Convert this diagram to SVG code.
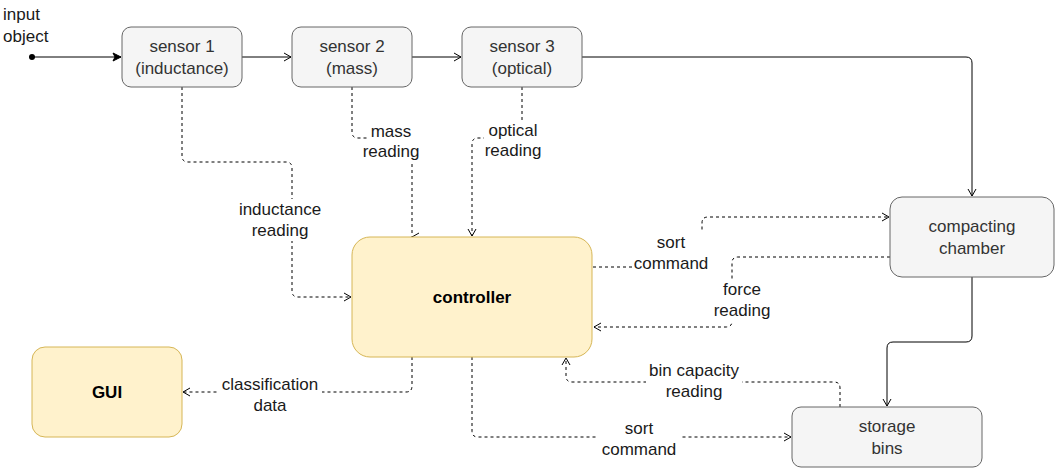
<svg xmlns="http://www.w3.org/2000/svg" width="1056" height="469" viewBox="0 0 1056 469">
<style>
.gray{fill:#f5f5f5;stroke:#666666;stroke-width:1}
.yel{fill:#fff2cc;stroke:#d6b656;stroke-width:1}
.nt{font-family:"Liberation Sans",Arial,sans-serif;font-size:17px;fill:#333333;text-anchor:middle}
.bt{font-family:"Liberation Sans",Arial,sans-serif;font-size:17px;font-weight:bold;fill:#000000;text-anchor:middle}
.lt{font-family:"Liberation Sans",Arial,sans-serif;font-size:17px;fill:#1a1a1a;text-anchor:middle}
.solid{fill:none;stroke:#000000;stroke-width:1}
.dash{fill:none;stroke:#000000;stroke-width:1;stroke-dasharray:3 3}
.lbg{fill:#ffffff;stroke:none}
</style>
<defs>
<marker id="open" markerUnits="userSpaceOnUse" markerWidth="10" markerHeight="10" viewBox="0 0 10 10" refX="8" refY="5" orient="auto">
<path d="M1,1 L8,5 L1,9" fill="none" stroke="#000000" stroke-width="1"/>
</marker>
<marker id="openL" markerUnits="userSpaceOnUse" markerWidth="10" markerHeight="10" viewBox="0 0 10 10" refX="1" refY="5" orient="0">
<path d="M8,1 L1,5 L8,9" fill="none" stroke="#000000" stroke-width="1"/>
</marker>
<marker id="classic" markerUnits="userSpaceOnUse" markerWidth="10" markerHeight="10" viewBox="0 0 10 10" refX="9" refY="5" orient="auto">
<path d="M1,1 L9,5 L1,9 L3,5 Z" fill="#000000" stroke="#000000" stroke-width="1"/>
</marker>
</defs>
<rect width="1056" height="469" fill="#ffffff"/>

<g id="connectors">
<circle cx="32" cy="57" r="3" fill="#000000"/>
<path class="solid" d="M32,57 H121" marker-end="url(#classic)"/>
<path class="solid" d="M242,57 H291" marker-end="url(#open)"/>
<path class="solid" d="M412,57 H461" marker-end="url(#open)"/>
<path class="solid" d="M582,57 H966 Q972,57 972,63 V196" marker-end="url(#open)"/>
<path class="solid" d="M972,277 V336 Q972,342 966,342 H893 Q887,342 887,348 V406" marker-end="url(#open)"/>

<path class="dash" d="M182,87 V156 Q182,162 188,162 H286 Q292,162 292,168 V291 Q292,297 298,297 H351" marker-end="url(#open)"/>
<path class="dash" d="M352,87 V132 Q352,138 358,138 H406 Q412,138 412,144 V237" marker-end="url(#openL)"/>
<path class="dash" d="M522,87 V132 Q522,138 516,138 H478 Q472,138 472,144 V236" marker-end="url(#open)"/>
<path class="dash" d="M593,267 H696 Q702,267 702,261 V223 Q702,217 708,217 H889" marker-end="url(#open)"/>
<path class="dash" d="M890,257 H738 Q732,257 732,263 V321 Q732,327 726,327 H594" marker-end="url(#open)"/>
<path class="dash" d="M412,357 V386 Q412,392 406,392 H183" marker-end="url(#open)"/>
<path class="dash" d="M840,407 V388 Q840,382 834,382 H572 Q566,382 566,376 V358" marker-end="url(#open)"/>
<path class="dash" d="M472,357 V431 Q472,437 478,437 H791" marker-end="url(#open)"/>

<rect class="lbg" x="236" y="199" width="89" height="42"/>
<text class="lt" x="280" y="215">inductance</text>
<text class="lt" x="280" y="236">reading</text>
<rect class="lbg" x="368" y="121" width="46" height="40"/>
<text class="lt" x="391" y="137">mass</text>
<text class="lt" x="391" y="157">reading</text>
<rect class="lbg" x="484" y="120" width="58" height="40"/>
<text class="lt" x="513" y="136">optical</text>
<text class="lt" x="513" y="156">reading</text>
<rect class="lbg" x="632" y="232" width="80" height="42"/>
<text class="lt" x="671" y="248">sort</text>
<text class="lt" x="671" y="269">command</text>
<rect class="lbg" x="711" y="279" width="62" height="42"/>
<text class="lt" x="742" y="295">force</text>
<text class="lt" x="742" y="316">reading</text>
<rect class="lbg" x="218" y="374" width="104" height="42"/>
<text class="lt" x="270" y="390">classification</text>
<text class="lt" x="270" y="411">data</text>
<rect class="lbg" x="646" y="360" width="96" height="42"/>
<text class="lt" x="694" y="376">bin capacity</text>
<text class="lt" x="694" y="397">reading</text>
<rect class="lbg" x="598" y="418" width="82" height="42"/>
<text class="lt" x="639" y="434">sort</text>
<text class="lt" x="639" y="455">command</text>
</g>

<g id="input-object">
<text class="lt" x="3" y="20" style="text-anchor:start">input</text>
<text class="lt" x="3" y="42" style="text-anchor:start">object</text>
</g>

<g id="sensor1">
<rect class="gray" x="122" y="27" width="120" height="60" rx="9" ry="9"/>
<text class="nt" x="182" y="52">sensor 1</text>
<text class="nt" x="182" y="74">(inductance)</text>
</g>
<g id="sensor2">
<rect class="gray" x="292" y="27" width="120" height="60" rx="9" ry="9"/>
<text class="nt" x="352" y="52">sensor 2</text>
<text class="nt" x="352" y="74">(mass)</text>
</g>
<g id="sensor3">
<rect class="gray" x="462" y="27" width="120" height="60" rx="9" ry="9"/>
<text class="nt" x="522" y="52">sensor 3</text>
<text class="nt" x="522" y="74">(optical)</text>
</g>
<g id="compacting-chamber">
<rect class="gray" x="890" y="197" width="164" height="80" rx="12" ry="12"/>
<text class="nt" x="972" y="232">compacting</text>
<text class="nt" x="972" y="254">chamber</text>
</g>
<g id="storage-bins">
<rect class="gray" x="792" y="407" width="190" height="60" rx="9" ry="9"/>
<text class="nt" x="887" y="432">storage</text>
<text class="nt" x="887" y="454">bins</text>
</g>
<g id="controller">
<rect class="yel" x="352" y="237" width="240" height="120" rx="18" ry="18"/>
<text class="bt" x="472" y="303">controller</text>
</g>
<g id="gui">
<rect class="yel" x="32" y="347" width="150" height="90" rx="13" ry="13"/>
<text class="bt" x="107" y="398">GUI</text>
</g>
</svg>
